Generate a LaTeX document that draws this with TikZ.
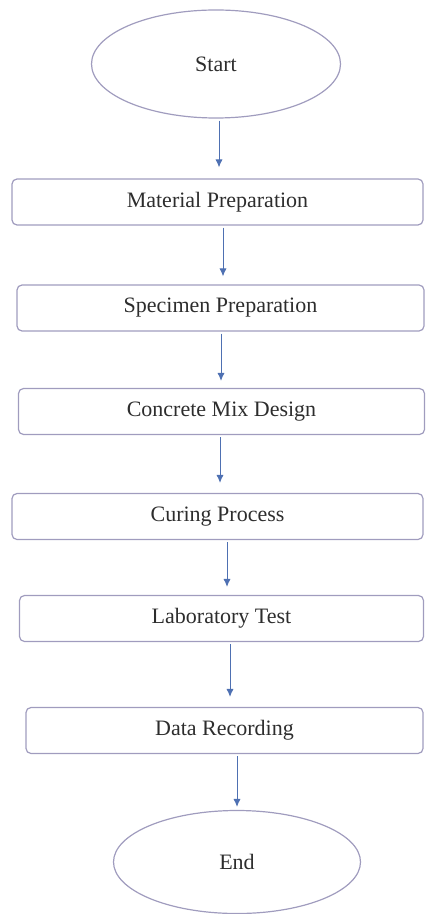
\documentclass[tikz,border=0pt]{standalone}
\usepackage{fontspec}
\setmainfont{Liberation Serif}
\usepackage{tikz}
\usetikzlibrary{arrows.meta, positioning, shapes.geometric}
\usepackage{xcolor}
\definecolor{BoxLine}{RGB}{160, 156, 190}
\definecolor{FlowBlue}{RGB}{78, 112, 178}
\definecolor{TextGray}{RGB}{45, 45, 45}

\tikzset{
  stepbox/.style={draw=BoxLine, line width=0.6pt, rounded corners=2.5pt,
    minimum height=23pt, inner sep=0pt, text=TextGray},
  termnode/.style={ellipse, draw=BoxLine, line width=0.6pt, inner sep=0pt,
    text=TextGray},
  flow/.style={-{Latex[length=4pt, width=3.6pt]}, draw=FlowBlue, line width=0.5pt,
    shorten <=1pt}
}

\begin{document}
\begin{tikzpicture}[x=0.5pt, y=-0.5pt, font=\fontsize{11}{13}\selectfont]
\useasboundingbox (0, 0) rectangle (425, 914);
\node[termnode, minimum width=124.5pt, minimum height=54pt] (start) at (216, 64) {Start};
\foreach \n/\cx/\cy/\w/\t in {mat/217.5/202/205.5/Material Preparation,
    spec/220.5/308/203.5/Specimen Preparation,
    mix/221.5/411.5/203/Concrete Mix Design,
    cure/217.5/516.5/205.5/Curing Process,
    lab/221.5/618.5/202/Laboratory Test,
    rec/224.5/730.5/198.5/Data Recording} {
  \node[stepbox, minimum width=\w pt] (\n) at (\cx, \cy) {\t};
}
\node[termnode, minimum width=123.5pt, minimum height=51.5pt] (end) at (237, 862) {End};
% connectors
\foreach \a/\b/\x/\g in {start/mat/219/5.5, mat/spec/223/4, spec/mix/221/3.5,
    mix/cure/220/5, cure/lab/227/4, lab/rec/230/5, rec/end/237/1.5} {
  \coordinate (ax) at (\x, 0);
  \draw[flow, shorten >=\g pt] (\a.south -| ax) -- (\b.north -| ax);
}
\end{tikzpicture}
\end{document}
